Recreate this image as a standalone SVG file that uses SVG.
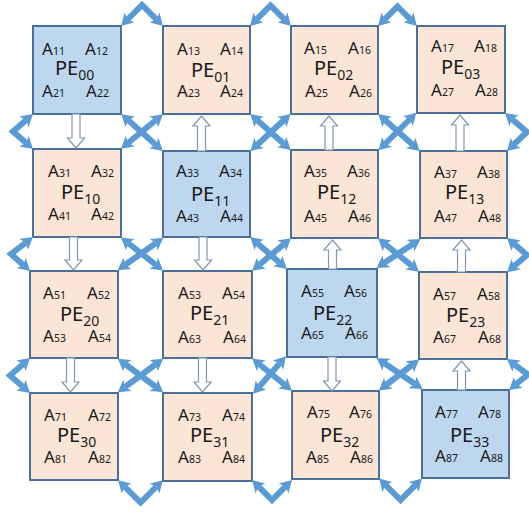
<svg xmlns="http://www.w3.org/2000/svg" width="529" height="512" viewBox="0 0 529 512">
<style>
.box{stroke:#4a6f98;stroke-width:2}
.blue{fill:#bdd7ee}
.peach{fill:#fbe5d6}
.a{font-family:"Noto Sans","Liberation Sans",sans-serif;font-size:17px;fill:#1a1a1a}
.s{font-size:10.5px}
.p{font-family:"Noto Sans","Liberation Sans",sans-serif;font-size:20px;fill:#1a1a1a}
.ps{font-size:14px}
.ln{fill:none;stroke:#5b9bd5;stroke-width:6;stroke-linejoin:miter;marker-start:url(#h);marker-end:url(#h)}
.ho{fill:#ffffff;stroke:#8497b0;stroke-width:1.2}
</style>
<defs>
<marker id="h" viewBox="-3 -7 12 14" refX="0" refY="0" markerWidth="12" markerHeight="14" markerUnits="userSpaceOnUse" orient="auto-start-reverse">
<path d="M-3,-7 L9,0 L-3,7 L0,0 Z" fill="#5b9bd5"/>
</marker>
</defs>
<rect width="529" height="512" fill="#ffffff"/>

<g id="PE00"><rect class="box blue" x="33" y="26" width="88" height="88"/>
<text class="a" x="42" y="55">A<tspan class="s">11</tspan></text><text class="a" x="85" y="55">A<tspan class="s">12</tspan></text>
<text class="p" x="55" y="75">PE<tspan class="ps" dy="5">00</tspan></text>
<text class="a" x="42" y="97">A<tspan class="s">21</tspan></text><text class="a" x="86" y="97">A<tspan class="s">22</tspan></text></g>

<g id="PE01"><rect class="box peach" x="163" y="26" width="87" height="88"/>
<text class="a" x="177" y="55">A<tspan class="s">13</tspan></text><text class="a" x="220" y="55">A<tspan class="s">14</tspan></text>
<text class="p" x="191" y="77">PE<tspan class="ps" dy="5">01</tspan></text>
<text class="a" x="177" y="97">A<tspan class="s">23</tspan></text><text class="a" x="220" y="97">A<tspan class="s">24</tspan></text></g>

<g id="PE02"><rect class="box peach" x="291" y="26" width="87" height="88"/>
<text class="a" x="304" y="54">A<tspan class="s">15</tspan></text><text class="a" x="348" y="54">A<tspan class="s">16</tspan></text>
<text class="p" x="314" y="75">PE<tspan class="ps" dy="5">02</tspan></text>
<text class="a" x="305" y="97">A<tspan class="s">25</tspan></text><text class="a" x="349" y="97">A<tspan class="s">26</tspan></text></g>

<g id="PE03"><rect class="box peach" x="417" y="26" width="88" height="87"/>
<text class="a" x="431" y="52">A<tspan class="s">17</tspan></text><text class="a" x="474" y="52">A<tspan class="s">18</tspan></text>
<text class="p" x="441" y="74">PE<tspan class="ps" dy="5">03</tspan></text>
<text class="a" x="431" y="96">A<tspan class="s">27</tspan></text><text class="a" x="475" y="96">A<tspan class="s">28</tspan></text></g>

<g id="PE10"><rect class="box peach" x="33" y="149" width="88" height="88"/>
<text class="a" x="48" y="177">A<tspan class="s">31</tspan></text><text class="a" x="91" y="177">A<tspan class="s">32</tspan></text>
<text class="p" x="61" y="199">PE<tspan class="ps" dy="5">10</tspan></text>
<text class="a" x="48" y="220">A<tspan class="s">41</tspan></text><text class="a" x="91" y="220">A<tspan class="s">42</tspan></text></g>

<g id="PE11"><rect class="box blue" x="163" y="151" width="87" height="86"/>
<text class="a" x="176" y="177">A<tspan class="s">33</tspan></text><text class="a" x="219" y="177">A<tspan class="s">34</tspan></text>
<text class="p" x="191" y="201">PE<tspan class="ps" dy="5">11</tspan></text>
<text class="a" x="176" y="222">A<tspan class="s">43</tspan></text><text class="a" x="220" y="222">A<tspan class="s">44</tspan></text></g>

<g id="PE12"><rect class="box peach" x="291" y="150" width="87" height="88"/>
<text class="a" x="304" y="177">A<tspan class="s">35</tspan></text><text class="a" x="347" y="177">A<tspan class="s">36</tspan></text>
<text class="p" x="317" y="199">PE<tspan class="ps" dy="5">12</tspan></text>
<text class="a" x="304" y="222">A<tspan class="s">45</tspan></text><text class="a" x="348" y="222">A<tspan class="s">46</tspan></text></g>

<g id="PE13"><rect class="box peach" x="420" y="151" width="87" height="87"/>
<text class="a" x="434" y="178">A<tspan class="s">37</tspan></text><text class="a" x="477" y="178">A<tspan class="s">38</tspan></text>
<text class="p" x="445" y="199">PE<tspan class="ps" dy="5">13</tspan></text>
<text class="a" x="434" y="222">A<tspan class="s">47</tspan></text><text class="a" x="478" y="222">A<tspan class="s">48</tspan></text></g>

<g id="PE20"><rect class="box peach" x="30" y="271" width="88" height="87"/>
<text class="a" x="43" y="299">A<tspan class="s">51</tspan></text><text class="a" x="87" y="299">A<tspan class="s">52</tspan></text>
<text class="p" x="60" y="321">PE<tspan class="ps" dy="5">20</tspan></text>
<text class="a" x="43" y="342">A<tspan class="s">53</tspan></text><text class="a" x="88" y="342">A<tspan class="s">54</tspan></text></g>

<g id="PE21"><rect class="box peach" x="163" y="271" width="89" height="87"/>
<text class="a" x="178" y="299">A<tspan class="s">53</tspan></text><text class="a" x="222" y="299">A<tspan class="s">54</tspan></text>
<text class="p" x="190" y="320">PE<tspan class="ps" dy="5">21</tspan></text>
<text class="a" x="178" y="343">A<tspan class="s">63</tspan></text><text class="a" x="223" y="343">A<tspan class="s">64</tspan></text></g>

<g id="PE22"><rect class="box blue" x="287" y="269" width="90" height="88"/>
<text class="a" x="301" y="297">A<tspan class="s">55</tspan></text><text class="a" x="344" y="297">A<tspan class="s">56</tspan></text>
<text class="p" x="313" y="320">PE<tspan class="ps" dy="5">22</tspan></text>
<text class="a" x="301" y="339">A<tspan class="s">65</tspan></text><text class="a" x="345" y="339">A<tspan class="s">66</tspan></text></g>

<g id="PE23"><rect class="box peach" x="419" y="272" width="88" height="87"/>
<text class="a" x="433" y="300">A<tspan class="s">57</tspan></text><text class="a" x="477" y="300">A<tspan class="s">58</tspan></text>
<text class="p" x="446" y="322">PE<tspan class="ps" dy="5">23</tspan></text>
<text class="a" x="433" y="343">A<tspan class="s">67</tspan></text><text class="a" x="478" y="343">A<tspan class="s">68</tspan></text></g>

<g id="PE30"><rect class="box peach" x="30" y="393" width="88" height="87"/>
<text class="a" x="44" y="421">A<tspan class="s">71</tspan></text><text class="a" x="88" y="421">A<tspan class="s">72</tspan></text>
<text class="p" x="57" y="442">PE<tspan class="ps" dy="5">30</tspan></text>
<text class="a" x="44" y="463">A<tspan class="s">81</tspan></text><text class="a" x="88" y="463">A<tspan class="s">82</tspan></text></g>

<g id="PE31"><rect class="box peach" x="163" y="393" width="89" height="88"/>
<text class="a" x="178" y="421">A<tspan class="s">73</tspan></text><text class="a" x="222" y="421">A<tspan class="s">74</tspan></text>
<text class="p" x="190" y="442">PE<tspan class="ps" dy="5">31</tspan></text>
<text class="a" x="178" y="463">A<tspan class="s">83</tspan></text><text class="a" x="222" y="463">A<tspan class="s">84</tspan></text></g>

<g id="PE32"><rect class="box peach" x="292" y="391" width="87" height="88"/>
<text class="a" x="307" y="418">A<tspan class="s">75</tspan></text><text class="a" x="349" y="418">A<tspan class="s">76</tspan></text>
<text class="p" x="320" y="442">PE<tspan class="ps" dy="5">32</tspan></text>
<text class="a" x="306" y="463">A<tspan class="s">85</tspan></text><text class="a" x="350" y="463">A<tspan class="s">86</tspan></text></g>

<g id="PE33"><rect class="box blue" x="422" y="390" width="87" height="88"/>
<text class="a" x="435" y="418">A<tspan class="s">77</tspan></text><text class="a" x="478" y="418">A<tspan class="s">78</tspan></text>
<text class="p" x="450" y="442">PE<tspan class="ps" dy="5">33</tspan></text>
<text class="a" x="435" y="462">A<tspan class="s">87</tspan></text><text class="a" x="480" y="462">A<tspan class="s">88</tspan></text></g>

<g id="connectors">
<!-- diagonal crosses -->
<line class="ln" x1="128" y1="120" x2="156" y2="145"/><line class="ln" x1="156" y1="120" x2="128" y2="143"/>
<line class="ln" x1="257" y1="120" x2="284" y2="144"/><line class="ln" x1="284" y1="120" x2="257" y2="145"/>
<line class="ln" x1="385" y1="120" x2="413" y2="145"/><line class="ln" x1="410" y1="119" x2="385" y2="144"/>
<line class="ln" x1="128" y1="243" x2="156" y2="265"/><line class="ln" x1="156" y1="243" x2="125" y2="265"/>
<line class="ln" x1="257" y1="243" x2="280" y2="263"/><line class="ln" x1="284" y1="244" x2="259" y2="265"/>
<line class="ln" x1="385" y1="244" x2="412" y2="266"/><line class="ln" x1="413" y1="244" x2="384" y2="263"/>
<line class="ln" x1="125" y1="364" x2="156" y2="387"/><line class="ln" x1="156" y1="364" x2="125" y2="387"/>
<line class="ln" x1="259" y1="364" x2="285" y2="385"/><line class="ln" x1="280" y1="363" x2="259" y2="387"/>
<line class="ln" x1="384" y1="363" x2="415" y2="384"/><line class="ln" x1="412" y1="365" x2="386" y2="385"/>
<!-- top wrap -->
<polyline class="ln" points="127.4,19.6 142,5 156.6,19.6"/>
<polyline class="ln" points="256.4,19.6 270.5,5.5 284.6,19.6"/>
<polyline class="ln" points="384.4,19.6 397.5,6.5 410.6,19.6"/>
<!-- bottom wrap -->
<polyline class="ln" points="124.5,486.5 140.5,502.5 156.5,486.5"/>
<polyline class="ln" points="258.4,486.4 272,500 285.6,486.4"/>
<polyline class="ln" points="385.4,484.9 400.5,500 415.6,484.9"/>
<!-- left wrap -->
<polyline class="ln" points="26.2,119.9 13,131.5 26.2,143.1"/>
<polyline class="ln" points="25.9,242.5 11,254 23.3,265"/>
<polyline class="ln" points="23.2,363.9 10,375.5 23.2,387.1"/>
<!-- right wrap -->
<polyline class="ln" points="511.8,118.9 527,132 513.5,144.8"/>
<polyline class="ln" points="513.9,243.8 527,255 513.9,266.2"/>
<polyline class="ln" points="514.2,364.3 528,374.5 516,384.3"/>
<!-- hollow vertical arrows -->
<path class="ho" d="M72,114 L80,114 L80,138 L84.5,138 L76,148 L67.5,138 L72,138 Z"/>
<path class="ho" d="M69.5,237 L77.5,237 L77.5,260 L82,260 L73.5,270 L65,260 L69.5,260 Z"/>
<path class="ho" d="M66.5,358 L74.5,358 L74.5,382 L79,382 L70.5,392 L62,382 L66.5,382 Z"/>
<path class="ho" d="M197.5,151 L205.5,151 L205.5,126 L210,126 L201.5,116 L193,126 L197.5,126 Z"/>
<path class="ho" d="M199,237 L207,237 L207,260 L211.5,260 L203,270 L194.5,260 L199,260 Z"/>
<path class="ho" d="M198.5,358 L206.5,358 L206.5,382 L211,382 L202.5,392 L194,382 L198.5,382 Z"/>
<path class="ho" d="M325,150 L333,150 L333,126 L337.5,126 L329,116 L320.5,126 L325,126 Z"/>
<path class="ho" d="M328.5,269 L336.5,269 L336.5,250 L341,250 L332.5,240 L324,250 L328.5,250 Z"/>
<path class="ho" d="M328,357 L336,357 L336,381 L340.5,381 L332,391 L323.5,381 L328,381 Z"/>
<path class="ho" d="M456,151 L464,151 L464,125 L468.5,125 L460,115 L451.5,125 L456,125 Z"/>
<path class="ho" d="M457.5,272 L465.5,272 L465.5,250 L470,250 L461.5,240 L453,250 L457.5,250 Z"/>
<path class="ho" d="M457.5,390 L465.5,390 L465.5,371 L470,371 L461.5,361 L453,371 L457.5,371 Z"/>
</g>
</svg>
